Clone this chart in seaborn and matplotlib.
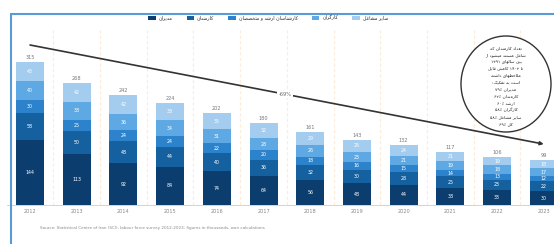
import unicodedata
import numpy as np
import pandas as pd
import matplotlib
matplotlib.use("Agg")
import matplotlib.pyplot as plt
from matplotlib.patches import Ellipse, Patch
from matplotlib.lines import Line2D
import seaborn as sns

# ---------------- data ----------------
years = ["2012", "2013", "2014", "2015", "2016", "2017",
         "2018", "2019", "2020", "2021", "2022", "2023"]
series_names = ["مدیران", "کارمندان", "کارشناسان ارشد و متخصصان", "کارگران", "سایر مشاغل"]
managers    = [144, 113, 92, 84, 74, 64, 56, 48, 44, 38, 33, 30]
employees   = [58, 50, 48, 44, 40, 36, 32, 30, 28, 25, 23, 22]
specialists = [30, 25, 24, 24, 22, 20, 18, 16, 15, 14, 13, 12]
workers     = [40, 38, 36, 34, 31, 28, 26, 23, 21, 19, 18, 17]
others      = [43, 42, 42, 38, 35, 32, 29, 26, 24, 21, 19, 18]
trend_start = 352
trend_end = 134
trend_label = "-69%"
note_lines = ["تعداد کارمندان که", "شاغل هستند می‌شود از", "بین سال‌های ۱۳۹۱",
              "تا ۱۴۰۲ کاهش قابل", "ملاحظه‌ای داشته", "است به تفکیک:",
              "مدیران ۷۹٪", "کارمندان ۶۲٪", "ارشد ۶۰٪", "کارگران ۵۸٪",
              "سایر مشاغل ۵۸٪", "کل ۶۹٪"]
source_text = ("Source: Statistical Centre of Iran (SCI), labour force survey 2012-2023; "
               "figures in thousands, own calculations")

colors = ["#0c3d6f", "#15609f", "#2c83cc", "#5ea9e4", "#a3ccef"]

# ------------- minimal Arabic/Persian shaping -------------
RIGHT_ONLY = set("اآأإدذرزژوؤة")
def is_ar(c):
    return ("\u0620" <= c <= "\u064A") or c in "پچژکگی"
def joins_both(c):
    return c is not None and is_ar(c) and c not in RIGHT_ONLY and c != "ء"
def form(c, f):
    try:
        return unicodedata.lookup(unicodedata.name(c) + " " + f + " FORM")
    except (KeyError, ValueError):
        return c
def shape_word(w):
    w = w.replace("\u200c", "")
    out = []
    for i, c in enumerate(w):
        if not is_ar(c):
            out.append(c)
            continue
        prev = w[i - 1] if i > 0 else None
        nxt = w[i + 1] if i + 1 < len(w) else None
        jp = joins_both(prev)
        jn = joins_both(c) and nxt is not None and is_ar(nxt)
        f = "MEDIAL" if (jp and jn) else "FINAL" if jp else "INITIAL" if jn else "ISOLATED"
        out.append(form(c, f))
    if any(is_ar(c) for c in w):
        return "".join(out[::-1])
    return "".join(out)
def rtl(s):
    return " ".join(shape_word(w) for w in s.split(" ")[::-1])

# ---------------- figure ----------------
sns.set_style("white")
plt.rcParams["font.family"] = ["DejaVu Sans"]

W, H = 554, 244
fig = plt.figure(figsize=(W / 100, H / 100), dpi=100)
fig.patch.set_facecolor("white")
ax = fig.add_axes([6.7 / W, 39 / H, 547.3 / W, 175 / H])

stack = [managers, employees, specialists, workers, others]
df = pd.DataFrame({"year": years})
cum = np.cumsum(np.array(stack), axis=0)
for k in range(len(stack) - 1, -1, -1):
    df["cum"] = cum[k]
    sns.barplot(data=df, x="year", y="cum", color=colors[k], width=0.6,
                saturation=1, linewidth=0, ax=ax, order=years, errorbar=None)

# value labels
for i in range(len(years)):
    for k in range(len(stack)):
        lo = cum[k - 1][i] if k > 0 else 0
        v = stack[k][i]
        ax.text(i, lo + v / 2, str(v), ha="center", va="center",
                fontsize=3.4, color="white", zorder=5)
    ax.text(i, cum[-1][i] + 5, str(cum[-1][i]), ha="center", va="bottom",
            fontsize=3.6, color="#777777", zorder=5)

# faint separators
for x in np.arange(0.5, len(years) - 0.5, 1):
    ax.axvline(x, color="#fcecd8", lw=0.8, ls=(0, (3, 2)), zorder=0)

# trend arrow
ax.annotate("", xy=(11, trend_end), xytext=(0, trend_start),
            arrowprops=dict(arrowstyle="-|>", color="#333333", lw=1.2,
                            mutation_scale=5, shrinkA=0, shrinkB=0), zorder=6)
xl = 5.46
yl = trend_start + (trend_end - trend_start) * xl / 11
ax.text(xl, yl, trend_label, ha="center", va="center", fontsize=3.6, color="#666666",
        bbox=dict(boxstyle="square,pad=0.3", fc="white", ec="none"), zorder=7)

ax.set_xlim(-0.5, 11.22)
ax.set_ylim(0, 385)
ax.set_xlabel("")
ax.set_ylabel("")
ax.set_yticks([])
ax.set_xticks(range(len(years)))
ax.set_xticklabels(years, fontsize=3.6, color="#888888")
ax.tick_params(axis="x", length=0, pad=3)
for s in ["top", "right", "left"]:
    ax.spines[s].set_visible(False)
ax.spines["bottom"].set_color("#cccccc")
ax.spines["bottom"].set_linewidth(0.6)

# legend
handles = [Patch(facecolor=c, edgecolor="none") for c in colors]
fig.legend(handles, [rtl(n) for n in series_names], ncol=5, loc="center",
           bbox_to_anchor=(268 / W, 1 - 18 / H), fontsize=3.4, frameon=False,
           handlelength=1.6, handleheight=1.0, columnspacing=3.0, handletextpad=0.6)

# circle note
circ = Ellipse((506 / 100, (H - 84) / 100), 0.90, 0.96, transform=fig.dpi_scale_trans,
               facecolor="white", edgecolor="#333333", lw=1.0, zorder=3)
fig.add_artist(circ)
y0 = 48
for j, line in enumerate(note_lines):
    fig.text(506 / W, 1 - (y0 + j * 6.9) / H, rtl(line), ha="center", va="center",
             fontsize=3.2, color="#222222", zorder=4)

# frame lines
fig.add_artist(Line2D([10.5 / W, 10.5 / W], [0, 1 - 14 / H], color="#5b9bd5", lw=1.5))
fig.add_artist(Line2D([10.5 / W, 1], [1 - 14 / H, 1 - 14 / H], color="#5b9bd5", lw=1.5))

fig.text(40 / W, 1 - 228 / H, source_text, fontsize=3.0, color="#888888", va="center")

fig.savefig("out.png", dpi=100, facecolor="white")
